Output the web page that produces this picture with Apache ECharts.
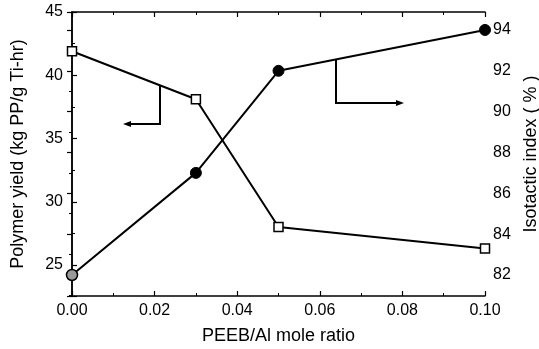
<!DOCTYPE html>
<html><head><meta charset="utf-8">
<script src="https://cdn.jsdelivr.net/npm/echarts@6/dist/echarts.min.js"></script>
<style>html,body{margin:0;padding:0;background:#fff}#c{width:539px;height:349px}</style>
</head><body><div id="c"></div>
<script>
const ratios = [0.00, 0.03, 0.05, 0.10];
const yieldValues = [41.9, 38.1, 28.0, 26.3];
const isotacticValues = [82.0, 87.0, 92.0, 94.0];
const xTitle = 'PEEB/Al mole ratio';
const leftTitle = 'Polymer yield (kg PP/g Ti-hr)';
const rightTitle = 'Isotactic index ( % )';

const font = 'Liberation Sans, Arial, sans-serif';
const chart = echarts.init(document.getElementById('c'), null, {renderer: 'canvas'});
const axisCommon = {
  axisLine: {show: true, lineStyle: {color: '#000', width: 1.5}},
  axisTick: {show: true, inside: true, length: 5, lineStyle: {color: '#000', width: 1.2}},
  minorTick: {show: true, splitNumber: 2, length: 3, lineStyle: {color: '#000', width: 1}},
  splitLine: {show: false},
  axisLabel: {color: '#000', fontSize: 16, fontFamily: font},
  nameTextStyle: {color: '#000', fontSize: 18, fontFamily: font}
};
chart.setOption({
  animation: false,
  grid: {left: 72, right: 54, top: 12, bottom: 53, containLabel: false, outerBoundsMode: 'none'},
  xAxis: [
    Object.assign({}, axisCommon, {type: 'value', min: 0, max: 0.1, interval: 0.02,
      name: xTitle, nameLocation: 'middle', nameGap: 31,
      axisLabel: Object.assign({}, axisCommon.axisLabel, {margin: 7, formatter: v => v.toFixed(2)})}),
    Object.assign({}, axisCommon, {type: 'value', min: 0, max: 0.1, interval: 0.02, position: 'top',
      axisLabel: {show: false}})
  ],
  yAxis: [
    Object.assign({}, axisCommon, {type: 'value', min: 22.55, max: 45, splitNumber: 4,
      name: leftTitle, nameLocation: 'middle', nameGap: 45,
      axisLabel: Object.assign({}, axisCommon.axisLabel, {margin: 9, showMinLabel: false})}),
    Object.assign({}, axisCommon, {type: 'value', min: 80.97, max: 94.88, splitNumber: 7, position: 'right',
      name: rightTitle, nameLocation: 'middle', nameGap: 37, nameRotate: 90,
      axisLabel: Object.assign({}, axisCommon.axisLabel, {margin: 8, showMinLabel: false, showMaxLabel: false})})
  ],
  series: [
    {type: 'line', xAxisIndex: 0, yAxisIndex: 0, data: ratios.map((x, i) => [x, yieldValues[i]]),
      symbol: 'rect', symbolSize: 9, lineStyle: {color: '#000', width: 2},
      itemStyle: {color: '#fff', borderColor: '#000', borderWidth: 1.5}, z: 3},
    {type: 'line', xAxisIndex: 0, yAxisIndex: 1,
      data: ratios.map((x, i) => i === 0
        ? {value: [x, isotacticValues[i]], itemStyle: {color: '#9a9a9a', borderColor: '#000', borderWidth: 1.5}}
        : [x, isotacticValues[i]]),
      symbol: 'circle', symbolSize: 11, lineStyle: {color: '#000', width: 2},
      itemStyle: {color: '#000', borderColor: '#000', borderWidth: 1}, z: 3}
  ],
  graphic: [
    {type: 'polyline', shape: {points: [[160, 85], [160, 124], [128, 124]]}, style: {stroke: '#000', lineWidth: 2, fill: null}},
    {type: 'polygon', shape: {points: [[123, 124], [131, 121], [131, 127]]}, style: {fill: '#000'}},
    {type: 'polyline', shape: {points: [[336, 60], [336, 103], [398, 103]]}, style: {stroke: '#000', lineWidth: 2, fill: null}},
    {type: 'polygon', shape: {points: [[404, 103], [396, 100], [396, 106]]}, style: {fill: '#000'}}
  ]
});
</script></body></html>
